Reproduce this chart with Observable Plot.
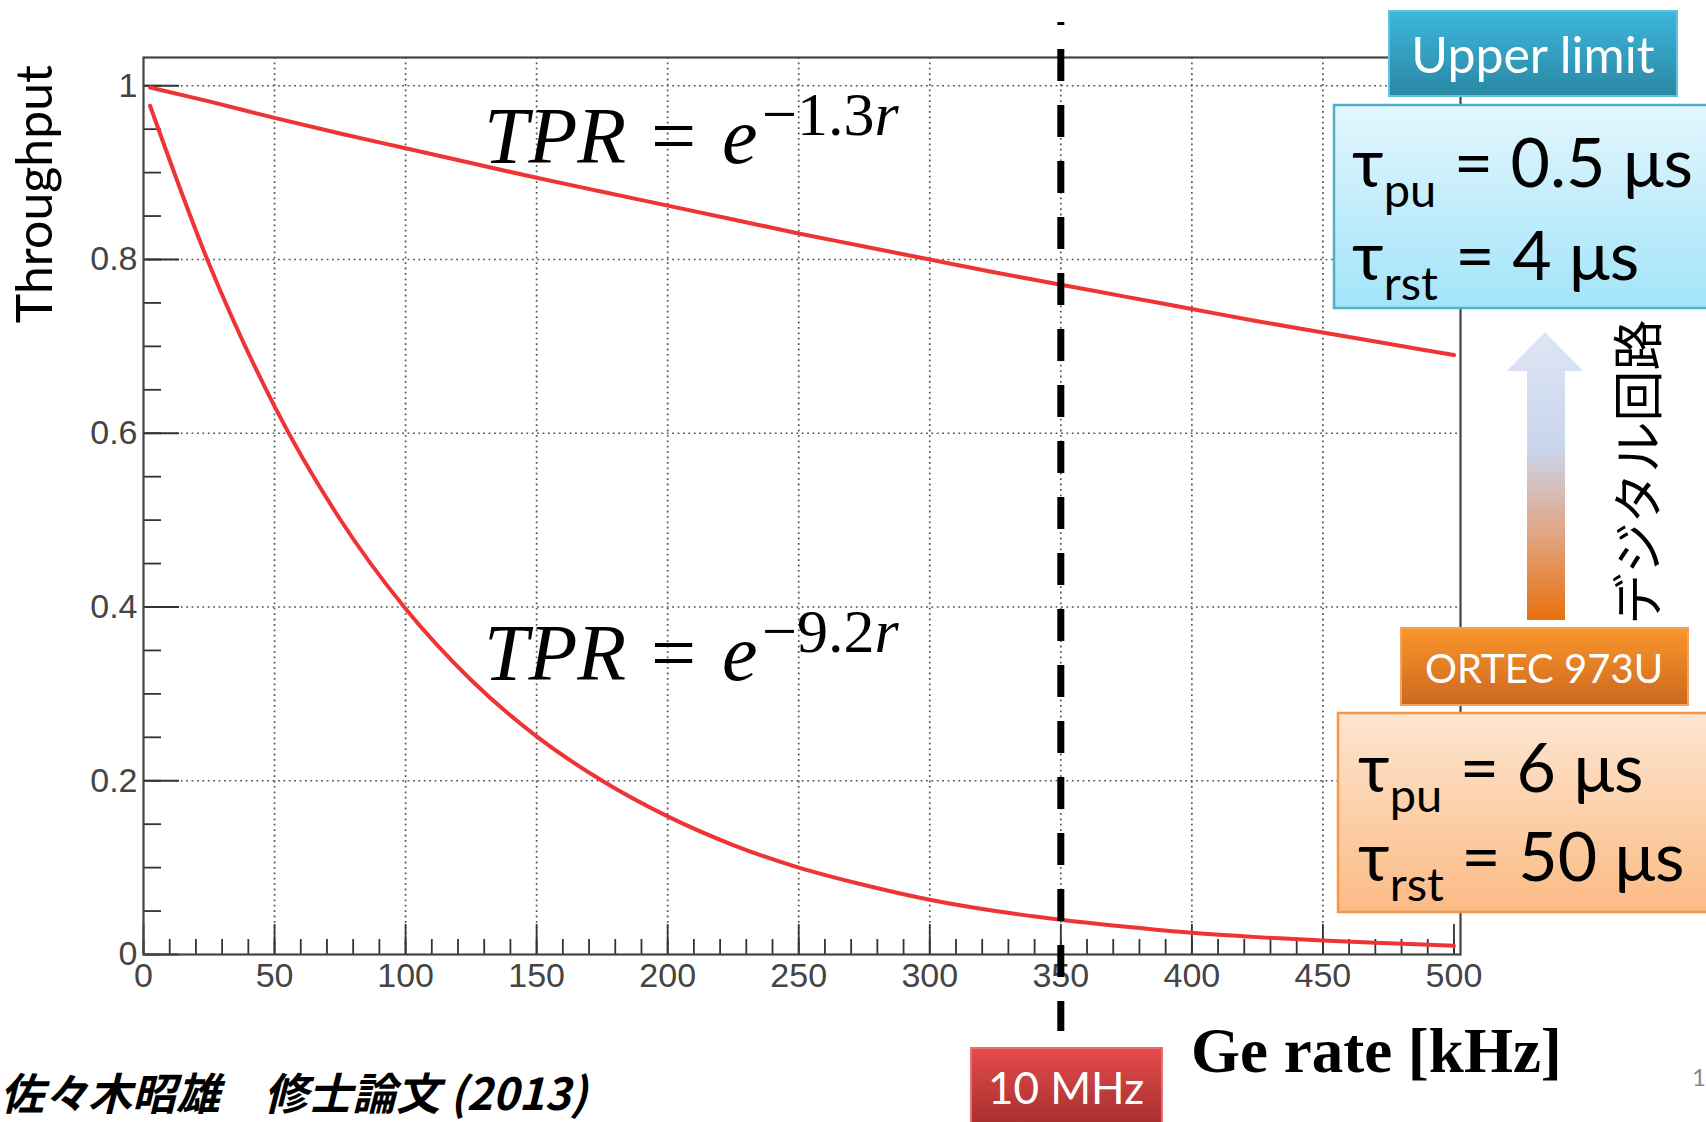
<!DOCTYPE html>
<html><head><meta charset="utf-8">
<script src="https://cdn.jsdelivr.net/npm/d3@7"></script>
<script src="https://cdn.jsdelivr.net/npm/@observablehq/plot@0.6"></script>
<style>
html,body{margin:0;padding:0;background:#fff;overflow:hidden;}
#wrap{position:relative;width:1706px;height:1122px;}
#chart,#over{position:absolute;left:0;top:0;}
</style></head><body>
<div id="wrap"><div id="chart"></div><svg id="over" width="1706" height="1122"></svg></div>
<script>
// ---- data ----
const rateKHz  = [2.5, 25, 50, 75, 100, 125, 150, 175, 200, 225, 250, 275, 300, 325, 350, 375, 400, 425, 450, 475, 500];
const tprUpper = [0.998, 0.982, 0.963, 0.945, 0.928, 0.911, 0.894, 0.878, 0.862, 0.846, 0.830, 0.815, 0.800, 0.785, 0.771, 0.757, 0.743, 0.729, 0.716, 0.703, 0.690];
const tprLower = [0.977, 0.795, 0.631, 0.501, 0.398, 0.316, 0.251, 0.200, 0.159, 0.126, 0.100, 0.080, 0.063, 0.050, 0.040, 0.032, 0.025, 0.020, 0.016, 0.013, 0.010];
const xMajorTicks = [0, 50, 100, 150, 200, 250, 300, 350, 400, 450, 500];
const xMinorTicks = [0,10,20,30,40,50,60,70,80,90,100,110,120,130,140,150,160,170,180,190,200,210,220,230,240,250,260,270,280,290,300,310,320,330,340,350,360,370,380,390,400,410,420,430,440,450,460,470,480,490,500];
const yMajorTicks = [0, 0.2, 0.4, 0.6, 0.8, 1];
const yMinorTicks = [0,0.05,0.1,0.15,0.2,0.25,0.3,0.35,0.4,0.45,0.5,0.55,0.6,0.65,0.7,0.75,0.8,0.85,0.9,0.95,1];
const xGridTicks = [50, 100, 150, 200, 250, 300, 350, 400, 450];
const yGridTicks = [0.2, 0.4, 0.6, 0.8, 1];
const markerRate = [350];
const xDomain = [0, 502.5];
const yDomain = [0, 1.0325];

const upper = rateKHz.map((r, i) => ({r, v: tprUpper[i]}));
const lower = rateKHz.map((r, i) => ({r, v: tprLower[i]}));

const red = "#ee3434";
const grid = {stroke: "#555", strokeWidth: 1.7, strokeDasharray: "1.8,3.6"};

const chart = Plot.plot({
  width: 1706, height: 1122,
  marginLeft: 143, marginRight: 246, marginTop: 57, marginBottom: 168,
  x: {domain: xDomain},
  y: {domain: yDomain},
  style: {background: "transparent", fontFamily: "'Liberation Sans', Arial, sans-serif", overflow: "visible"},
  marks: [
    Plot.ruleX(xGridTicks, {x: d => d, ...grid}),
    Plot.ruleY(yGridTicks, {y: d => d, ...grid}),
    Plot.axisX(xMinorTicks, {tickSize: -15, fill: "none", stroke: "#333", strokeWidth: 1.8, label: null}),
    Plot.axisX(xMajorTicks, {tickSize: -30, fill: "none", stroke: "#333", strokeWidth: 1.8, label: null}),
    Plot.axisX(xMajorTicks, {tickSize: 0, tickPadding: 8, fontSize: 34, fill: "#444", label: null, tickFormat: d => String(d)}),
    Plot.axisY(yMinorTicks, {tickSize: -18, fill: "none", stroke: "#333", strokeWidth: 1.8, label: null}),
    Plot.axisY(yMajorTicks, {tickSize: -36, fill: "none", stroke: "#333", strokeWidth: 1.8, label: null}),
    Plot.axisY(yMajorTicks, {tickSize: 0, tickPadding: 6, fontSize: 34, fill: "#444", label: null, tickFormat: d => String(d)}),
    Plot.line(upper, {x: "r", y: "v", stroke: red, strokeWidth: 4, curve: "monotone-x"}),
    Plot.line(lower, {x: "r", y: "v", stroke: red, strokeWidth: 4, curve: "monotone-x"}),
    Plot.frame({stroke: "#444", strokeWidth: 2.2}),
    Plot.ruleX(markerRate, {x: d => d, stroke: "#000", strokeWidth: 7, strokeDasharray: "32,24", strokeDashoffset: 29, insetTop: -35, insetBottom: -77})
  ]
});
document.getElementById("chart").appendChild(chart);

// ---- annotations overlay ----
const svg = d3.select("#over");
const defs = svg.append("defs");
function grad(id, stops) {
  const g = defs.append("linearGradient").attr("id", id).attr("x1", 0).attr("y1", 0).attr("x2", 0).attr("y2", 1);
  stops.forEach(([o, c]) => g.append("stop").attr("offset", o).attr("stop-color", c));
}
grad("gUpper", [[0, "#3db7dc"], [1, "#2a87a4"]]);
grad("gBlue", [[0, "#e3f6fd"], [1, "#a3e4f9"]]);
grad("gOrange", [[0, "#fa962c"], [1, "#cc681d"]]);
grad("gPeach", [[0, "#fde5d0"], [1, "#fbbb84"]]);
grad("gRed", [[0, "#e54b4b"], [1, "#a32e2e"]]);
grad("gArrow", [[0, "#dde6f5"], [0.4, "#c9d5ec"], [0.72, "#e2a27c"], [1, "#e8700e"]]);

const calibri = "Lato, 'Open Sans', 'Noto Sans', sans-serif";

// Upper limit
svg.append("rect").attr("x", 1389).attr("y", 11).attr("width", 288).attr("height", 85).attr("fill", "url(#gUpper)").attr("stroke", "#5cc3e0").attr("stroke-width", 2);
svg.append("text").attr("x", 1533).attr("y", 73).attr("text-anchor", "middle").attr("fill", "#fff").attr("font-family", calibri).attr("font-size", 50).text("Upper limit");

// Blue params box
svg.append("rect").attr("x", 1334).attr("y", 105).attr("width", 390).attr("height", 203).attr("fill", "url(#gBlue)").attr("stroke", "#4fb0cb").attr("stroke-width", 2.5);
function tau(x, y, sub, rest) {
  const t = svg.append("text").attr("x", x).attr("y", y).attr("fill", "#000").attr("font-family", calibri).attr("font-size", 68);
  t.append("tspan").text("τ");
  t.append("tspan").attr("dy", 20).attr("font-size", 47).text(sub);
  t.append("tspan").attr("dy", -20).text(rest);
}
tau(1352, 187, "pu", "  = 0.5 μs");
tau(1352, 280, "rst", " = 4 μs");

// Arrow
svg.append("path").attr("d", "M1545,332 L1583,371 L1565,371 L1565,620 L1527,620 L1527,371 L1507,371 Z").attr("fill", "url(#gArrow)");
svg.append("text").attr("transform", "translate(1635,472) rotate(-90)").attr("text-anchor", "middle").attr("dominant-baseline", "central")
  .attr("font-family", "'Noto Sans CJK JP', sans-serif").attr("font-size", 51).attr("fill", "#000").text("デジタル回路");

// ORTEC box
svg.append("rect").attr("x", 1401).attr("y", 628).attr("width", 287).attr("height", 77).attr("fill", "url(#gOrange)").attr("stroke", "#f3a35a").attr("stroke-width", 2);
svg.append("text").attr("x", 1544).attr("y", 683).attr("text-anchor", "middle").attr("fill", "#fff").attr("font-family", calibri).attr("font-size", 40).text("ORTEC 973U");

// Peach params box
svg.append("rect").attr("x", 1338).attr("y", 713).attr("width", 390).attr("height", 199).attr("fill", "url(#gPeach)").attr("stroke", "#f79646").attr("stroke-width", 2.5);
tau(1358, 792, "pu", "  = 6 μs");
tau(1358, 881, "rst", " = 50 μs");

// 10 MHz box
svg.append("rect").attr("x", 971).attr("y", 1048).attr("width", 191).attr("height", 80).attr("fill", "url(#gRed)").attr("stroke", "#e87070").attr("stroke-width", 2);
svg.append("text").attr("x", 1066).attr("y", 1104).attr("text-anchor", "middle").attr("fill", "#fff").attr("font-family", calibri).attr("font-size", 44).text("10 MHz");

// Formulas
function formula(y, expo) {
  const t = svg.append("text").attr("y", y).attr("fill", "#000").attr("font-family", "'Liberation Serif', 'DejaVu Serif', serif").attr("font-size", 80);
  t.append("tspan").attr("x", 484).attr("font-style", "italic").text("TPR");
  t.append("tspan").attr("x", 651).text("=");
  t.append("tspan").attr("x", 722).attr("font-style", "italic").text("e");
  t.append("tspan").attr("x", 762).attr("dy", -28).attr("font-size", 62).text("−" + expo);
  t.append("tspan").attr("font-size", 62).attr("font-style", "italic").text("r");
}
formula(163, "1.3");
formula(680, "9.2");

// Axis titles
svg.append("text").attr("transform", "translate(52,65) rotate(-90)").attr("text-anchor", "end").attr("font-family", calibri).attr("font-size", 50).attr("fill", "#000").text("Throughput");
svg.append("text").attr("x", 1191).attr("y", 1072).attr("font-family", "'Liberation Serif', 'Times New Roman', serif").attr("font-weight", "bold").attr("font-size", 63).attr("fill", "#000").text("Ge rate [kHz]");

// Caption
svg.append("text").attr("x", 0).attr("y", 1110).attr("font-family", "'Noto Sans CJK JP', sans-serif").attr("font-weight", "bold").attr("font-style", "italic").attr("font-size", 44).attr("fill", "#000").text("佐々木昭雄　修士論文 (2013)");
svg.append("text").attr("x", 1692).attr("y", 1086).attr("font-family", calibri).attr("font-size", 24).attr("fill", "#888").text("1");
</script>
</body></html>
